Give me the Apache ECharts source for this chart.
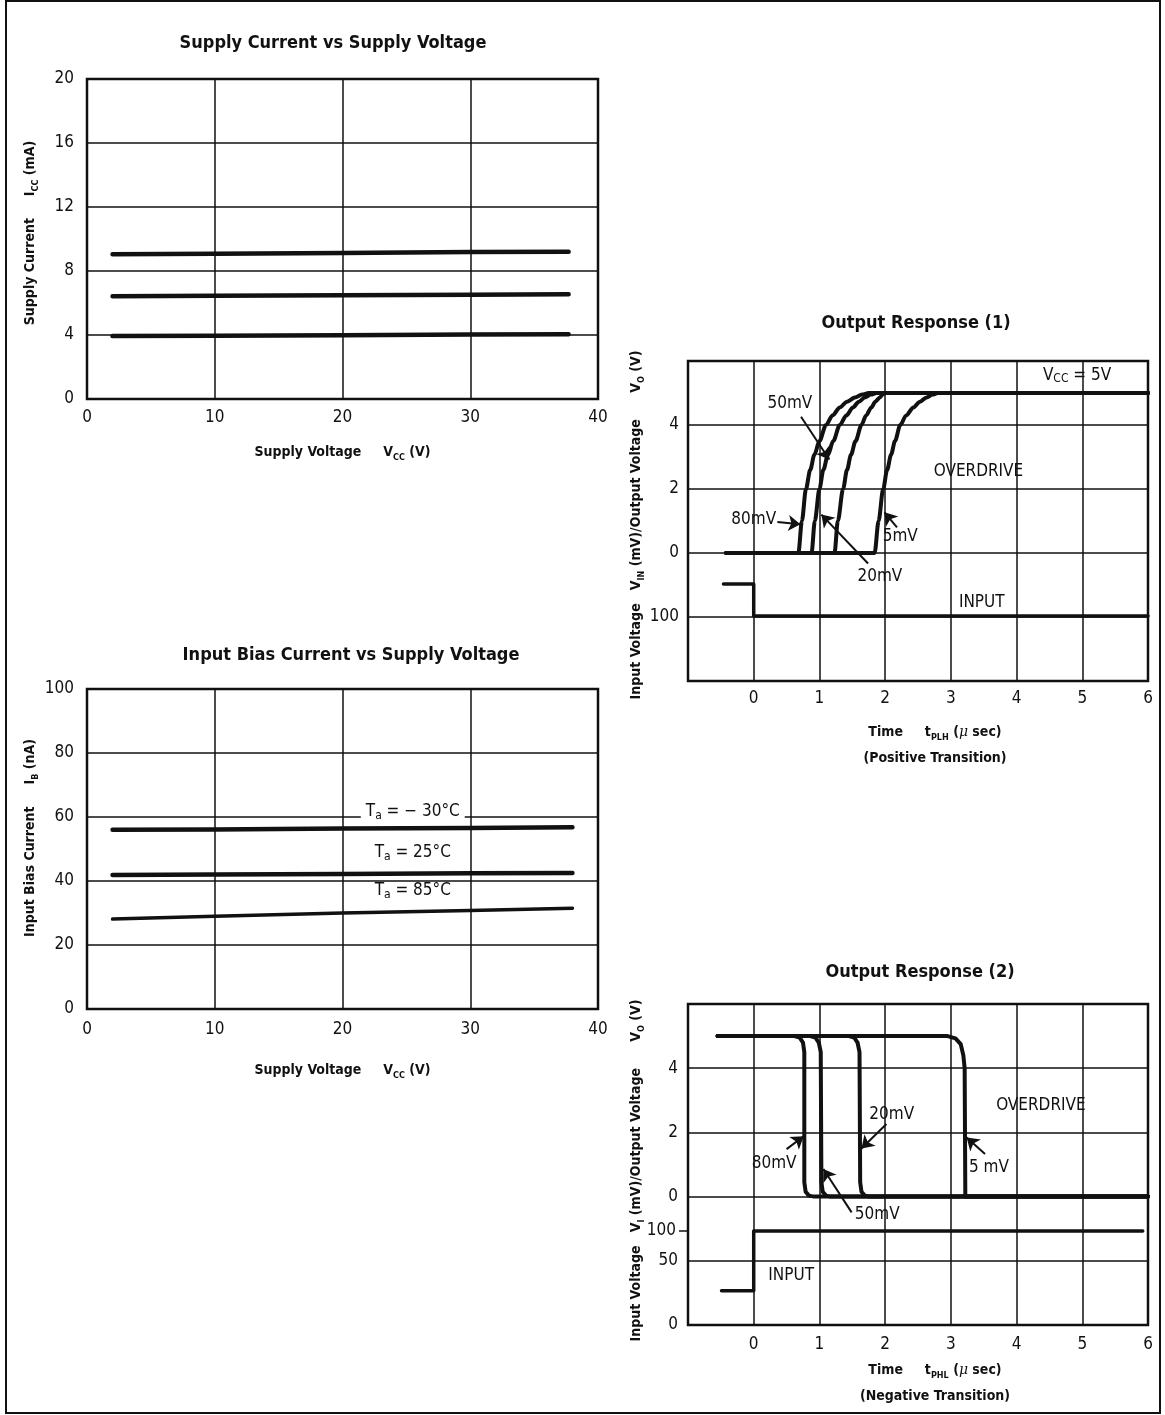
<!DOCTYPE html>
<html>
<head>
<meta charset="utf-8">
<script src="https://cdn.jsdelivr.net/npm/echarts@6/dist/echarts.min.js"></script>
<style>
  html, body { margin: 0; padding: 0; background: #fff; }
  #chart { width: 1165px; height: 1415px; }
</style>
</head>
<body>
<div id="chart"></div>
<script>
// ---------------- data ----------------
// Supply current vs supply voltage
const vccPoints = [2, 10, 20, 30, 37.7];
const iccCurves = [
  [9.05, 9.08, 9.13, 9.18, 9.2],
  [6.42, 6.45, 6.48, 6.52, 6.55],
  [3.93, 3.95, 3.99, 4.03, 4.05]
];

// Input bias current vs supply voltage, one curve per ambient temperature
const biasVcc = [2, 10, 20, 30, 38];
const biasTemps = ['− 30°C', '25°C', '85°C'];
const biasCurves = [
  [56.0, 56.1, 56.4, 56.6, 56.8],
  [41.9, 42.0, 42.2, 42.4, 42.5],
  [28.1, 29.0, 30.0, 30.8, 31.5]
];

// Output response (1): positive transition, [time µs, output V]
const riseOverdrives = ['80mV', '50mV', '20mV', '5mV'];
const riseCurves = [
  [[-0.42, 0], [0.68, 0], [0.733, 1.0], [0.795, 2.0], [0.86, 2.6], [0.923, 3.07], [1.0, 3.5], [1.10, 4.0], [1.2, 4.3], [1.31, 4.55], [1.42, 4.73], [1.54, 4.86], [1.65, 4.95], [1.75, 5.0], [6, 5]],
  [[-0.42, 0], [0.88, 0], [0.93, 1.0], [1.0, 2.0], [1.06, 2.6], [1.13, 3.07], [1.21, 3.5], [1.31, 4.0], [1.41, 4.3], [1.51, 4.55], [1.6, 4.73], [1.69, 4.86], [1.78, 4.95], [1.87, 5.0], [6, 5]],
  [[-0.42, 0], [1.23, 0], [1.28, 1.0], [1.36, 2.0], [1.42, 2.6], [1.48, 3.07], [1.55, 3.5], [1.64, 4.0], [1.71, 4.3], [1.79, 4.55], [1.85, 4.73], [1.92, 4.86], [1.96, 4.95], [2.0, 5.0], [6, 5]],
  [[-0.42, 0], [1.84, 0], [1.90, 1.0], [1.97, 2.0], [2.03, 2.6], [2.09, 3.07], [2.15, 3.5], [2.23, 4.0], [2.32, 4.3], [2.43, 4.55], [2.53, 4.73], [2.63, 4.86], [2.72, 4.95], [2.8, 5.0], [6, 5]]
];
const riseInput = [[-0.46, -0.97], [0, -0.97], [0, -1.97], [6, -1.97]];
const riseYTickValues = [-2, 0, 2, 4];
const riseYTickLabels = ['100', '0', '2', '4'];

// Output response (2): negative transition, [time µs, output V]
const fallOverdrives = ['80mV', '50mV', '20mV', '5 mV'];
const fallCurves = [
  [[-0.55, 5], [0.62, 5], [0.7, 4.95], [0.75, 4.8], [0.77, 4.5], [0.77, 0.45], [0.79, 0.15], [0.84, 0.03], [0.92, 0], [6, 0]],
  [[-0.55, 5], [0.86, 5], [0.94, 4.95], [0.99, 4.8], [1.02, 4.5], [1.03, 0.45], [1.05, 0.15], [1.1, 0.03], [1.17, 0], [6, 0]],
  [[-0.55, 5], [1.45, 5], [1.53, 4.95], [1.58, 4.8], [1.61, 4.5], [1.62, 0.45], [1.64, 0.15], [1.69, 0.03], [1.76, 0], [6, 0]],
  [[-0.55, 5], [2.95, 5], [3.07, 4.93], [3.15, 4.75], [3.19, 4.4], [3.21, 4.0], [3.22, 0], [6, 0]]
];
const fallInputHigh = -1.07;   // 100 mV input level
const fallInput = [[-0.49, -2.93], [0, -2.93], [0, fallInputHigh], [5.92, fallInputHigh]];
const fallYTickValues = [-4, -2, 0, 2, 4];
const fallYTickLabels = ['0', '50', '0', '2', '4'];

const timeTickLabels = ['0', '1', '2', '3', '4', '5', '6'];

// ---------------- styling helpers ----------------
const NARROW = '"Liberation Sans Narrow", "DejaVu Sans Condensed", "Arial Narrow", "Liberation Sans", sans-serif';
const INK = '#111';

const nameRich = {
  b: { fontFamily: NARROW, fontWeight: 'bold', fontSize: 14, lineHeight: 20, color: INK },
  s: { fontFamily: NARROW, fontWeight: 'bold', fontSize: 9, lineHeight: 12, verticalAlign: 'bottom', color: INK },
  m: { fontFamily: '"DejaVu Serif", serif', fontStyle: 'italic', fontSize: 14, lineHeight: 20, color: INK },
  // second line of a two-line axis name, pushed down for wider line spacing
  p: { fontFamily: NARROW, fontWeight: 'bold', fontSize: 14, lineHeight: 20, padding: [12, 0, 0, 0], color: INK }
};
const noteRich = {
  n: { fontFamily: NARROW, fontSize: 17, lineHeight: 20, color: INK },
  s: { fontFamily: NARROW, fontSize: 12, lineHeight: 13, verticalAlign: 'bottom', color: INK }
};
const tickLabelStyle = { fontFamily: NARROW, fontSize: 17, color: INK };
const splitStyle = { show: true, lineStyle: { color: INK, width: 1.5 } };

function curveSeries(data, xi, yi, width, smooth) {
  return {
    type: 'line', xAxisIndex: xi, yAxisIndex: yi, data: data,
    showSymbol: false, symbol: 'none', silent: true, z: 3,
    smooth: smooth || false, smoothMonotone: smooth ? 'x' : undefined,
    lineStyle: { color: INK, width: width, cap: 'round', join: 'round' }
  };
}
function noteSeries(points, xi, yi, extra) {
  return {
    type: 'scatter', xAxisIndex: xi, yAxisIndex: yi, silent: true, z: 5,
    symbolSize: 0.1, itemStyle: { color: 'rgba(0,0,0,0)', opacity: 1 },
    data: points.map(p => ({ value: [p[0], p[1]], label: Object.assign({
      show: true, position: 'inside', formatter: p[2], rich: noteRich, opacity: 1,
      fontFamily: NARROW, fontSize: 17, color: INK
    }, extra || {}) }))
  };
}
function arrowSeries(pairs, xi, yi) {
  return {
    type: 'lines', coordinateSystem: 'cartesian2d', xAxisIndex: xi, yAxisIndex: yi,
    silent: true, z: 4, symbol: ['none', 'arrow'], symbolSize: 12,
    lineStyle: { color: INK, width: 2, opacity: 1, curveness: 0 },
    data: pairs.map(c => ({ coords: c }))
  };
}
const sub = (base, s, rest) => `{n|${base}}{s|${s}}{n|${rest}}`;

// ---------------- option ----------------
const option = {
  animation: false,
  backgroundColor: '#fff',
  title: [
    { text: 'Supply Current vs Supply Voltage', left: 333, top: 34, textAlign: 'center' },
    { text: 'Input Bias Current vs Supply Voltage', left: 351, top: 646, textAlign: 'center' },
    { text: 'Output Response (1)', left: 916, top: 314, textAlign: 'center' },
    { text: 'Output Response (2)', left: 920, top: 963, textAlign: 'center' }
  ].map(t => Object.assign(t, { padding: 0, textStyle: { fontFamily: NARROW, fontWeight: 'bold', fontSize: 18, color: INK } })),
  graphic: [{
    type: 'rect', silent: true, z: 100,
    shape: { x: 6, y: 1, width: 1154, height: 1412 },
    style: { fill: 'none', stroke: INK, lineWidth: 2 }
  }],
  grid: [
    { left: 87, top: 79, width: 511, height: 320 },
    { left: 87, top: 689, width: 511, height: 320 },
    { left: 688, top: 361, width: 460, height: 320 },
    { left: 688, top: 1004, width: 460, height: 321 }
  ].map(g => Object.assign(g, { show: true, borderColor: INK, borderWidth: 2.5, backgroundColor: '#fff', containLabel: false })),
  xAxis: [
    {
      gridIndex: 0, type: 'value', min: 0, max: 40, interval: 10,
      axisLine: { show: false }, axisTick: { show: false }, splitLine: splitStyle,
      axisLabel: Object.assign({ margin: 10 }, tickLabelStyle),
      name: '{b|Supply Voltage}{b|     V}{s|CC}{b| (V)}', nameLocation: 'middle', nameGap: 43,
      nameTextStyle: { rich: nameRich }
    },
    {
      gridIndex: 1, type: 'value', min: 0, max: 40, interval: 10,
      axisLine: { show: false }, axisTick: { show: false }, splitLine: splitStyle,
      axisLabel: Object.assign({ margin: 12 }, tickLabelStyle),
      name: '{b|Supply Voltage}{b|     V}{s|CC}{b| (V)}', nameLocation: 'middle', nameGap: 51,
      nameTextStyle: { rich: nameRich }
    },
    {
      gridIndex: 2, type: 'value', min: -1, max: 6, interval: 1,
      axisLine: { show: false }, axisTick: { show: false }, splitLine: splitStyle,
      axisLabel: Object.assign({ margin: 9, formatter: v => (v >= 0 ? timeTickLabels[v] : '') }, tickLabelStyle),
      name: '{b|Time}{b|     t}{s|PLH}{b| (}{m|μ}{b| sec)}\n{p|(Positive Transition)}',
      nameLocation: 'middle', nameGap: 41,
      nameTextStyle: { rich: nameRich, padding: [0, 0, 0, 34] }
    },
    {
      gridIndex: 3, type: 'value', min: -1, max: 6, interval: 1,
      axisLine: { show: false }, axisTick: { show: false }, splitLine: splitStyle,
      axisLabel: Object.assign({ margin: 11, formatter: v => (v >= 0 ? timeTickLabels[v] : '') }, tickLabelStyle),
      name: '{b|Time}{b|     t}{s|PHL}{b| (}{m|μ}{b| sec)}\n{p|(Negative Transition)}',
      nameLocation: 'middle', nameGap: 35,
      nameTextStyle: { rich: nameRich, padding: [0, 0, 0, 34] }
    }
  ],
  yAxis: [
    {
      gridIndex: 0, type: 'value', min: 0, max: 20, interval: 4,
      axisLine: { show: false }, axisTick: { show: false }, splitLine: splitStyle,
      axisLabel: Object.assign({ margin: 13 }, tickLabelStyle),
      name: '{b|Supply Current}{b|     I}{s|CC}{b| (mA)}', nameLocation: 'middle', nameRotate: 90, nameGap: 47,
      nameTextStyle: { rich: nameRich, padding: [0, 0, 0, 12] }
    },
    {
      gridIndex: 1, type: 'value', min: 0, max: 100, interval: 20,
      axisLine: { show: false }, axisTick: { show: false }, splitLine: splitStyle,
      axisLabel: Object.assign({ margin: 13 }, tickLabelStyle),
      name: '{b|Input Bias Current}{b|     I}{s|B}{b| (nA)}', nameLocation: 'middle', nameRotate: 90, nameGap: 47,
      nameTextStyle: { rich: nameRich, padding: [0, 0, 0, 22] }
    },
    {
      gridIndex: 2, type: 'value', min: -4, max: 6, interval: 2,
      axisLine: { show: false }, axisTick: { show: false }, splitLine: splitStyle,
      axisLabel: Object.assign({ margin: 9, formatter: v => {
        const i = riseYTickValues.indexOf(v); return i < 0 ? '' : riseYTickLabels[i];
      } }, tickLabelStyle),
      name: '{b|Input Voltage}{b|   V}{s|IN}{b| (mV)/Output Voltage}{b|      V}{s|O}{b| (V)}',
      nameLocation: 'middle', nameRotate: 90, nameGap: 38,
      nameTextStyle: { rich: nameRich, padding: [0, 8, 0, 0] }
    },
    {
      gridIndex: 3, type: 'value', min: -4, max: 6, interval: 2,
      axisLine: { show: false }, axisTick: { show: false }, splitLine: splitStyle,
      axisLabel: Object.assign({ margin: 10, formatter: v => {
        const i = fallYTickValues.indexOf(v); return i < 0 ? '' : fallYTickLabels[i];
      } }, tickLabelStyle),
      name: '{b|Input Voltage}{b|   V}{s|I}{b| (mV)/Output Voltage}{b|      V}{s|O}{b| (V)}',
      nameLocation: 'middle', nameRotate: 90, nameGap: 42,
      nameTextStyle: { rich: nameRich, padding: [0, 12, 0, 0] }
    },
    {
      // extra tick marking the 100 mV input level of the negative transition
      gridIndex: 3, type: 'value', min: -4, max: 6, position: 'left',
      axisLine: { show: false }, splitLine: { show: false },
      axisTick: { show: true, customValues: [fallInputHigh], length: 9, lineStyle: { color: INK, width: 1.5 } },
      axisLabel: Object.assign({ margin: 12, customValues: [fallInputHigh],
        formatter: v => (Math.abs(v - fallInputHigh) < 0.01 ? '100' : '') }, tickLabelStyle)
    }
  ],
  series: [
    // supply current
    ...iccCurves.map(c => curveSeries(vccPoints.map((v, i) => [v, c[i]]), 0, 0, 4.5)),
    // input bias current
    ...biasCurves.map((c, k) => curveSeries(biasVcc.map((v, i) => [v, c[i]]), 1, 1, k === 2 ? 3.5 : 4.5)),
    noteSeries([
      [25.5, 61.6, sub('T', 'a', ' = ' + biasTemps[0])],
    ], 1, 1, { backgroundColor: '#fff', padding: [1, 5] }),
    noteSeries([
      [25.5, 48.8, sub('T', 'a', ' = ' + biasTemps[1])],
      [25.5, 37.0, sub('T', 'a', ' = ' + biasTemps[2])]
    ], 1, 1),
    // output response (1)
    ...riseCurves.map(c => curveSeries(c, 2, 2, 4, 0.3)),
    curveSeries(riseInput, 2, 2, 3.5),
    arrowSeries([
      [[0.36, 0.97], [0.71, 0.9]],
      [[0.72, 4.26], [1.15, 2.92]],
      [[1.74, -0.33], [1.03, 1.2]],
      [[2.18, 0.8], [1.99, 1.27]]
    ], 2, 2),
    noteSeries([
      [0.0, 1.03, riseOverdrives[0]],
      [0.55, 4.66, riseOverdrives[1]],
      [1.92, -0.75, riseOverdrives[2]],
      [2.23, 0.5, riseOverdrives[3]],
      [3.42, 2.53, 'OVERDRIVE'],
      [3.47, -1.56, 'INPUT'],
      [4.92, 5.56, sub('V', 'CC', ' = 5V')]
    ], 2, 2),
    // output response (2)
    ...fallCurves.map(c => curveSeries(c, 3, 3, 4)),
    curveSeries(fallInput, 3, 3, 3.5),
    arrowSeries([
      [[0.5, 1.48], [0.76, 1.88]],
      [[1.49, -0.49], [1.06, 0.86]],
      [[2.02, 2.26], [1.64, 1.5]],
      [[3.52, 1.33], [3.24, 1.84]]
    ], 3, 3),
    noteSeries([
      [0.31, 1.02, fallOverdrives[0]],
      [1.88, -0.56, fallOverdrives[1]],
      [2.1, 2.55, fallOverdrives[2]],
      [3.58, 0.9, fallOverdrives[3]],
      [4.37, 2.83, 'OVERDRIVE'],
      [0.57, -2.45, 'INPUT']
    ], 3, 3)
  ]
};

const chart = echarts.init(document.getElementById('chart'), null, { renderer: 'canvas' });
chart.setOption(option);
</script>
</body>
</html>
